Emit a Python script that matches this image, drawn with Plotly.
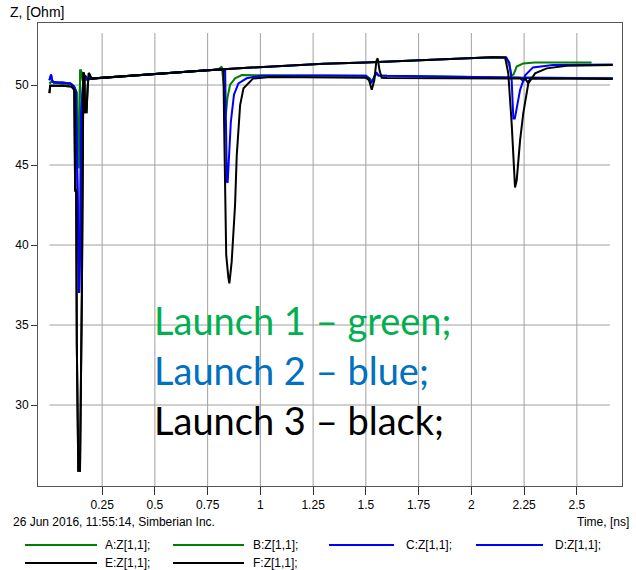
import plotly.graph_objects as go

# ---------------- data ----------------
# Launch 1 (green) - A: reflection seen from port 1, B: from port 2
A_t = [0.0, 0.01, 0.06, 0.105, 0.118, 0.130, 0.134, 0.138, 0.142, 0.146, 0.150, 0.158, 0.175, 0.2,
       0.3, 0.5, 0.7, 0.8, 0.817, 0.828, 0.833, 0.836, 0.844, 0.856, 0.88, 0.912, 1.2, 1.5, 1.52,
       1.53, 1.545, 1.56, 1.6, 2.1, 2.67]
A_z = [50.1, 50.2, 50.1, 50.05, 49.9, 49.5, 46.0, 44.8, 48.0, 50.9, 50.9, 50.3, 50.35, 50.4,
       50.5, 50.7, 50.88, 50.97, 51.15, 49.8, 48.3, 48.1, 49.2, 50.0, 50.42, 50.62, 50.6, 50.58, 50.4,
       50.2, 50.7, 50.6, 50.58, 50.48, 50.42]
B_t = [0.0, 0.01, 0.06, 0.105, 0.118, 0.130, 0.134, 0.138, 0.142, 0.146, 0.150, 0.158, 0.175, 0.2,
       0.3, 0.5, 0.7, 0.9, 1.1, 1.3, 1.5, 1.7, 1.9, 2.1, 2.165, 2.18, 2.191, 2.2, 2.215, 2.246,
       2.3, 2.57]
B_z = [50.1, 50.2, 50.1, 50.05, 49.9, 49.5, 46.0, 44.8, 48.0, 50.9, 50.9, 50.3, 50.35, 50.4,
       50.5, 50.7, 50.88, 51.05, 51.2, 51.33, 51.4, 51.52, 51.64, 51.74, 51.72, 51.2, 50.6, 50.65,
       51.15, 51.35, 51.4, 51.4]

# Launch 2 (blue)
C_t = [0.0, 0.008, 0.013, 0.02, 0.06, 0.1, 0.115, 0.125, 0.134, 0.141, 0.146, 0.150, 0.160, 0.169,
       0.18, 0.2, 0.3, 0.5, 0.7, 0.8, 0.826, 0.833, 0.838, 0.841, 0.845, 0.853, 0.86, 0.875, 0.896,
       0.935, 1.0, 1.3, 1.5, 1.515, 1.525, 1.54, 1.55, 1.56, 1.6, 2.1, 2.23, 2.245, 2.26, 2.67]
C_z = [50.3, 50.65, 50.3, 50.15, 50.15, 50.1, 49.9, 49.6, 43.0, 37.0, 40.0, 48.0, 50.2, 50.6,
       50.35, 50.4, 50.5, 50.7, 50.88, 50.97, 50.95, 50.9, 46.7, 43.95, 43.9, 45.6, 47.7, 49.4, 50.1,
       50.42, 50.58, 50.6, 50.58, 50.4, 50.1, 50.5, 50.8, 50.6, 50.58, 50.48, 50.46, 50.25, 50.45, 50.42]
D_t = [0.0, 0.008, 0.013, 0.02, 0.06, 0.1, 0.115, 0.125, 0.134, 0.141, 0.146, 0.150, 0.160, 0.169,
       0.18, 0.2, 0.3, 0.5, 0.7, 0.9, 1.1, 1.3, 1.5, 1.7, 1.9, 2.1, 2.165, 2.18, 2.191, 2.199,
       2.206, 2.215, 2.231, 2.255, 2.292, 2.387, 2.67]
D_z = [50.3, 50.65, 50.3, 50.15, 50.15, 50.1, 49.9, 49.6, 43.0, 37.0, 40.0, 48.0, 50.2, 50.6,
       50.35, 50.4, 50.5, 50.7, 50.88, 51.05, 51.2, 51.33, 51.4, 51.52, 51.64, 51.74, 51.72, 51.4,
       50.3, 47.9, 47.9, 48.6, 49.7, 50.6, 51.1, 51.25, 51.28]

# Launch 3 (black)
E_t = [0.0, 0.004, 0.01, 0.06, 0.105, 0.118, 0.122, 0.127, 0.130, 0.137, 0.145, 0.154, 0.161,
       0.166, 0.169, 0.176, 0.182, 0.187, 0.2, 0.3, 0.5, 0.7, 0.8, 0.822, 0.825, 0.828, 0.833,
       0.838, 0.848, 0.853, 0.858, 0.864, 0.88, 0.888, 0.904, 0.92, 0.965, 1.046, 1.5, 1.515,
       1.528, 1.54, 1.55, 1.556, 1.565, 1.575, 1.6, 2.1, 2.255, 2.268, 2.28, 2.67]
E_z = [49.5, 49.95, 49.95, 49.95, 49.9, 49.7, 43.4, 43.4, 33.75, 25.9, 25.9, 37.0, 50.8,
       50.6, 48.3, 48.3, 50.0, 50.75, 50.4, 50.5, 50.7, 50.88, 50.97, 50.97, 50.94, 47.7, 43.56,
       39.4, 38.0, 37.6, 38.2, 38.96, 42.5, 45.6, 48.75, 49.8, 50.4, 50.5, 50.45, 50.3,
       49.7, 50.3, 51.5, 51.67, 50.9, 50.45, 50.44, 50.4, 50.4, 50.15, 50.4, 50.38]
F_t = [0.0, 0.004, 0.01, 0.06, 0.105, 0.118, 0.122, 0.127, 0.130, 0.137, 0.145, 0.154, 0.161,
       0.166, 0.169, 0.176, 0.182, 0.187, 0.2, 0.3, 0.5, 0.7, 0.9, 1.1, 1.3, 1.5, 1.7, 1.9, 2.1,
       2.16, 2.175, 2.191, 2.207, 2.215, 2.231, 2.246, 2.27, 2.302, 2.357, 2.452, 2.67]
F_z = [49.5, 49.95, 49.95, 49.95, 49.9, 49.7, 43.4, 43.4, 33.75, 25.9, 25.9, 37.0, 50.8,
       50.6, 48.3, 48.3, 50.0, 50.75, 50.4, 50.5, 50.7, 50.88, 51.05, 51.2, 51.33, 51.4, 51.52,
       51.64, 51.74, 51.72, 50.73, 47.6, 43.6, 44.06, 46.56, 48.23, 50.1, 50.73, 51.04, 51.2, 51.25]

series_names = ["A:Z[1,1];", "B:Z[1,1];", "C:Z[1,1];", "D:Z[1,1];", "E:Z[1,1];", "F:Z[1,1];"]
series_t = [A_t, B_t, C_t, D_t, E_t, F_t]
series_z = [A_z, B_z, C_z, D_z, E_z, F_z]
series_colors = ["#008000", "#008000", "#0000FF", "#0000FF", "#000000", "#000000"]

x_tickvals = [0.25, 0.5, 0.75, 1, 1.25, 1.5, 1.75, 2, 2.25, 2.5]
x_ticktext = ["0.25", "0.5", "0.75", "1", "1.25", "1.5", "1.75", "2", "2.25", "2.5"]
y_tickvals = [30, 35, 40, 45, 50]

launch_texts = ["Launch 1 \u2013 green;", "Launch 2 \u2013 blue;", "Launch 3 \u2013 black;"]
launch_colors = ["#00B050", "#0070C0", "#000000"]

# ---------------- layout geometry (pixels) ----------------
W, H = 636, 570
L, R, T, B = 38, 622, 23, 486
PW, PH = R - L, B - T


def px(xp):
    return (xp - L) / PW


def py(yp):
    return (B - yp) / PH


XR = [-0.054, 2.714]
YR = [24.94, 53.875]

fig = go.Figure()
for t, z, c, n in zip(series_t, series_z, series_colors, series_names):
    fig.add_trace(go.Scatter(x=t, y=z, mode="lines", name=n,
                             line=dict(color=c, width=2), showlegend=False,
                             hoverinfo="skip"))

font_ui = "Liberation Sans, Arial, sans-serif"
shapes = []
grid_col = "#a0a0a0"
for xv in x_tickvals:
    shapes.append(dict(type="line", xref="x", yref="y", x0=xv, x1=xv, y0=YR[0], y1=53.25,
                       line=dict(color=grid_col, width=1), layer="below"))
for yv in y_tickvals:
    shapes.append(dict(type="line", xref="x", yref="y", x0=0, x1=2.657, y0=yv, y1=yv,
                       line=dict(color=grid_col, width=1), layer="below"))

# custom legend (two rows of line samples + labels)
leg_line_x = [(25, 97), (173, 244), (329, 394), (476, 543)]
leg_text_x = [103, 251, 404, 553]
leg_row_y = [545, 563]
annotations = []
for i, (n, c) in enumerate(zip(series_names, series_colors)):
    row, col = divmod(i, 4)
    x0, x1 = leg_line_x[col]
    yy = py(leg_row_y[row])
    shapes.append(dict(type="line", xref="paper", yref="paper", x0=px(x0), x1=px(x1),
                       y0=yy, y1=yy, line=dict(color=c, width=2)))
    annotations.append(dict(xref="paper", yref="paper", x=px(leg_text_x[col]), y=yy,
                            xanchor="left", yanchor="middle", text=n, showarrow=False,
                            font=dict(family=font_ui, size=12, color="#000000")))

annotations.append(dict(xref="paper", yref="paper", x=px(8), y=py(12), xanchor="left",
                        yanchor="middle", text="Z, [Ohm]", showarrow=False,
                        font=dict(family=font_ui, size=14, color="#000000")))
annotations.append(dict(xref="paper", yref="paper", x=px(11), y=py(522), xanchor="left",
                        yanchor="middle", text="26 Jun 2016, 11:55:14, Simberian Inc.",
                        showarrow=False, font=dict(family=font_ui, size=12, color="#000000")))
annotations.append(dict(xref="paper", yref="paper", x=px(631), y=py(522), xanchor="right",
                        yanchor="middle", text="Time, [ns]", showarrow=False,
                        font=dict(family=font_ui, size=12, color="#000000")))
for k, (txt, col) in enumerate(zip(launch_texts, launch_colors)):
    annotations.append(dict(xref="paper", yref="paper", x=px(152), y=py(320 + 50 * k),
                            xanchor="left", yanchor="middle", text=txt, showarrow=False,
                            font=dict(family="Lato, Open Sans, sans-serif", size=38, color=col)))

fig.update_layout(
    width=W, height=H,
    margin=dict(l=L, r=W - R, t=T, b=H - B),
    paper_bgcolor="white", plot_bgcolor="white",
    xaxis=dict(range=XR, tickvals=x_tickvals, ticktext=x_ticktext, showgrid=False,
               zeroline=False, showline=True, mirror=True, linecolor="#555555", linewidth=1,
               ticks="outside", ticklen=8, tickcolor="#333333",
               tickfont=dict(family=font_ui, size=12, color="#000000")),
    yaxis=dict(range=YR, tickvals=y_tickvals, showgrid=False, zeroline=False,
               showline=True, mirror=True, linecolor="#555555", linewidth=1,
               ticks="outside", ticklen=6, tickcolor="#333333",
               tickfont=dict(family=font_ui, size=12, color="#000000")),
    shapes=shapes, annotations=annotations, showlegend=False,
)

fig.write_html("out.html")
